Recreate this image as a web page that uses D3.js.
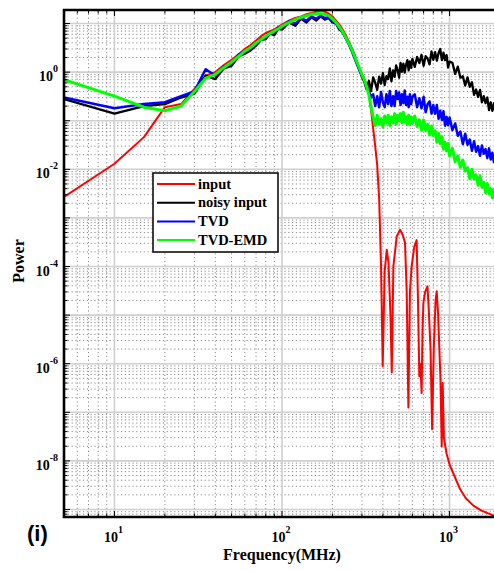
<!DOCTYPE html>
<html>
<head>
<meta charset="utf-8">
<script src="https://cdn.jsdelivr.net/npm/d3@7/dist/d3.min.js"></script>
<style>
  body { margin: 0; background: #fff; }
  svg { display: block; font-family: "Liberation Serif", "Times New Roman", serif; font-weight: bold; }
</style>
</head>
<body>
<script>
// Input spectrum (MHz, power)
const inputFreq = [5, 10, 15, 20, 25, 30, 35, 40, 45, 50, 55, 60, 65, 70, 75, 80, 85, 90, 95, 100,
  110, 120, 130, 140, 150, 160, 170, 180, 190, 200, 210, 220, 230, 240, 250, 260, 270, 280, 290, 300,
  310, 320, 330, 340, 350, 360, 370, 380, 390, 399, 410, 422, 432, 444, 452, 462, 484, 507, 525, 542,
  555, 568, 580, 594, 615, 636, 648, 660, 670, 681, 690, 698, 715, 738, 750, 770, 787, 805, 825, 838,
  855, 869, 882, 898, 910, 925, 960, 1007, 1080, 1157, 1250, 1387, 1550, 1745, 2000];
const inputPower = [2.7e-3, 1.3e-2, 4.6e-2, 0.19, 0.22, 0.45, 0.85, 1.0, 1.4, 1.8, 2.3, 3.0, 3.6, 4.5, 5.5, 6.4, 7.0, 7.6, 8.5, 9.5,
  11.5, 13, 14, 15.5, 16.5, 17.5, 18.5, 17.5, 16, 14, 11.5, 9.5, 7.5, 5.8, 4.3, 3.2, 2.3, 1.6, 1.15, 0.9,
  0.72, 0.55, 0.35, 0.17, 0.07, 0.03, 0.012, 2.5e-3, 1e-4, 9e-7, 8e-5, 2.2e-4, 1.2e-4, 1e-5, 6.6e-7, 1e-4, 4.2e-4, 5.7e-4, 4.5e-4, 3.1e-4,
  3e-5, 1.25e-7, 3e-5, 1e-4, 2.5e-4, 3.5e-4, 2e-5, 5.5e-7, 1e-6, 2.5e-7, 5e-6, 1.8e-5, 3e-5, 3.9e-5, 1.5e-5, 2e-6, 4.5e-8, 2e-6, 2e-5, 3.1e-5,
  1e-5, 2e-6, 5e-7, 2e-8, 4e-7, 3e-8, 1.4e-8, 7.9e-9, 4.5e-9, 2.6e-9, 1.7e-9, 1.2e-9, 9.5e-10, 8e-10, 6.5e-10];

// Noisy input, TVD and TVD-EMD spectra share one frequency axis
const noisyFreq = [5, 10, 15, 20, 25, 30, 35, 40, 45, 50, 55, 60, 65, 70, 75, 80, 85, 90, 95, 100,
  110, 120, 130, 140, 150, 160, 170, 180, 190, 200, 210, 220, 230, 240, 250, 260, 270, 280, 290, 300,
  310, 320, 330, 340, 350, 360, 370, 380, 390, 400, 410, 420, 430, 440, 450, 460, 470, 480, 490, 500,
  510, 520, 530, 540, 550, 560, 570, 580, 590, 600,
  620, 640, 660, 680, 700, 720, 740, 760, 780, 800, 820, 840, 860, 880, 900, 920, 940, 960, 980, 1000,
  1040, 1080, 1120, 1160, 1200, 1240, 1280, 1320, 1360, 1400, 1440, 1480, 1520, 1560, 1600, 1640, 1680, 1720, 1760, 1800,
  1840, 1880, 1920, 1960, 2000];
const noisyPower = [0.28, 0.14, 0.2, 0.22, 0.3, 0.36, 0.85, 0.72, 1.2, 1.35, 2.1, 2.4, 2.8, 3.5, 4.6, 4.8, 6.2, 5.8, 7.8, 7.5,
  10.5, 9, 12.5, 10.5, 13.5, 11.5, 14, 12, 13, 10.5, 10, 7.5, 6.8, 5, 4.2, 3, 2.3, 1.6, 1.1, 0.8,
  0.63, 0.44, 0.66, 0.41, 0.78, 0.6, 0.43, 0.81, 0.58, 0.95, 0.54, 0.83, 0.72, 1.19, 0.65, 1.09, 0.8, 1.37, 1.1, 0.77,
  1.55, 1.02, 1.5, 0.98, 1.43, 1.76, 1.09, 1.67, 1.23, 1.88,
  1.28, 2.06, 1.53, 2.28, 1.35, 2.13, 1.9, 1.44, 2.67, 1.79, 2.58, 1.72, 2.48, 2.99, 1.76, 2.52, 1.76, 2.25, 1.24, 1.65,
  1.56, 0.92, 1.3, 0.77, 0.82, 0.53, 0.78, 0.5, 0.62, 0.34, 0.44, 0.31, 0.43, 0.24, 0.32, 0.23, 0.3, 0.165, 0.24, 0.16,
  0.23, 0.136, 0.176, 0.14, 0.18];
const tvdPower = [0.3, 0.18, 0.22, 0.24, 0.32, 0.4, 1.15, 0.85, 1.3, 1.5, 2.3, 2.7, 3.0, 4.0, 4.8, 5.4, 6.5, 6.8, 8.2, 8.5,
  11, 10, 13, 11.5, 14, 12.5, 14.5, 13, 13.5, 11, 10, 8, 6.5, 5, 3.8, 2.8, 2.0, 1.45, 1.1, 0.85,
  0.68, 0.5, 0.42, 0.3, 0.35, 0.2, 0.32, 0.19, 0.39, 0.24, 0.19, 0.35, 0.22, 0.41, 0.2, 0.32, 0.2, 0.41, 0.28, 0.38,
  0.21, 0.35, 0.23, 0.42, 0.21, 0.31, 0.19, 0.35, 0.22, 0.31,
  0.35, 0.19, 0.29, 0.18, 0.31, 0.15, 0.22, 0.25, 0.14, 0.21, 0.14, 0.21, 0.11, 0.16, 0.104, 0.156, 0.079, 0.12, 0.081, 0.117,
  0.064, 0.088, 0.049, 0.06, 0.033, 0.054, 0.032, 0.041, 0.024, 0.038, 0.023, 0.03, 0.019, 0.031, 0.021, 0.026, 0.017, 0.027, 0.016, 0.022,
  0.014, 0.022, 0.015, 0.018, 0.013];
const tvdEmdPower = [0.7, 0.32, 0.19, 0.16, 0.2, 0.4, 0.75, 0.9, 1.25, 1.6, 2.1, 2.7, 3.2, 4.0, 4.7, 5.5, 6.3, 7.0, 7.8, 8.8,
  10.5, 12, 13.5, 14.5, 15.5, 16, 16, 15.5, 14.5, 12.5, 10.5, 8.5, 6.8, 5.2, 4.0, 3.0, 2.2, 1.6, 1.2, 0.88,
  0.7, 0.5, 0.34, 0.19, 0.12, 0.08, 0.13, 0.085, 0.11, 0.075, 0.125, 0.09, 0.13, 0.08, 0.12, 0.09, 0.14, 0.085, 0.13, 0.1,
  0.14, 0.09, 0.15, 0.095, 0.12, 0.085, 0.13, 0.085, 0.12, 0.09,
  0.125, 0.076, 0.104, 0.064, 0.104, 0.063, 0.084, 0.051, 0.078, 0.05, 0.062, 0.036, 0.055, 0.034, 0.047, 0.026, 0.036, 0.024, 0.034, 0.019,
  0.027, 0.0144, 0.019, 0.011, 0.0156, 0.0092, 0.0109, 0.0064, 0.01, 0.0063, 0.0077, 0.0047, 0.0074, 0.0043, 0.0054, 0.0033, 0.0051, 0.0031, 0.004, 0.0026,
  0.0039, 0.0025, 0.0032, 0.002, 0.0033];

const legendLabels = ["input", "noisy input", "TVD", "TVD-EMD"];
const xTickExponents = [1, 2, 3];
const yTickExponents = [-8, -6, -4, -2, 0];

const width = 494,
  height = 571,
  plot = { left: 64, right: 500, top: 10, bottom: 517 };

const x = d3.scaleLog().domain([5, 2000]).range([plot.left, plot.right]);
const y = d3.scaleLog().domain([7e-10, 19]).range([plot.bottom, plot.top]);

const svg = d3.select("body").append("svg")
  .attr("width", width)
  .attr("height", height);

svg.append("defs").append("clipPath")
  .attr("id", "plot-clip")
  .append("rect")
  .attr("x", plot.left)
  .attr("y", plot.top)
  .attr("width", plot.right - plot.left)
  .attr("height", plot.bottom - plot.top);

const isDecade = v => Math.abs(Math.log10(v) - Math.round(Math.log10(v))) < 1e-6;
const xAll = x.ticks(),
  yAll = y.ticks(40);

// Grid: dotted minor lines, solid light major lines
const grid = svg.append("g").attr("clip-path", "url(#plot-clip)");

grid.selectAll(".xminor")
  .data(xAll.filter(v => !isDecade(v)))
  .enter().append("line")
  .attr("x1", d => x(d)).attr("x2", d => x(d))
  .attr("y1", plot.top).attr("y2", plot.bottom)
  .style("stroke", "#8c8c8c")
  .style("stroke-width", 1)
  .style("stroke-dasharray", "1.2,2.6");

grid.selectAll(".yminor")
  .data(yAll.filter(v => !isDecade(v)))
  .enter().append("line")
  .attr("x1", plot.left).attr("x2", plot.right)
  .attr("y1", d => y(d)).attr("y2", d => y(d))
  .style("stroke", "#8c8c8c")
  .style("stroke-width", 1)
  .style("stroke-dasharray", "1.2,2.6");

grid.selectAll(".xmajor")
  .data(xAll.filter(isDecade))
  .enter().append("line")
  .attr("x1", d => x(d)).attr("x2", d => x(d))
  .attr("y1", plot.top).attr("y2", plot.bottom)
  .style("stroke", "#cfcfcf")
  .style("stroke-width", 1.6);

grid.selectAll(".ymajor")
  .data(yAll.filter(isDecade))
  .enter().append("line")
  .attr("x1", plot.left).attr("x2", plot.right)
  .attr("y1", d => y(d)).attr("y2", d => y(d))
  .style("stroke", "#cfcfcf")
  .style("stroke-width", 1.6);

// Spectra
const series = [
  { freq: inputFreq, power: inputPower, color: "#ff0000", w: 2 },
  { freq: noisyFreq, power: noisyPower, color: "#000000", w: 2.3 },
  { freq: noisyFreq, power: tvdPower, color: "#0000ff", w: 2.5 },
  { freq: noisyFreq, power: tvdEmdPower, color: "#00ff00", w: 3 }
];

const line = d3.line()
  .x(d => x(d[0]))
  .y(d => y(d[1]));

svg.append("g")
  .attr("clip-path", "url(#plot-clip)")
  .selectAll("path")
  .data(series)
  .enter().append("path")
  .attr("d", s => line(s.freq.map((f, i) => [f, s.power[i]])))
  .style("fill", "none")
  .style("stroke", s => s.color)
  .style("stroke-width", s => s.w)
  .style("stroke-linejoin", "round");

// Box and inward ticks
const ticks = svg.append("g").style("stroke", "#000").style("stroke-width", 1);

xAll.forEach(v => {
  const len = isDecade(v) ? 6 : 3.5;
  ticks.append("line").attr("x1", x(v)).attr("x2", x(v)).attr("y1", plot.bottom).attr("y2", plot.bottom - len);
  ticks.append("line").attr("x1", x(v)).attr("x2", x(v)).attr("y1", plot.top).attr("y2", plot.top + len);
});
yAll.forEach(v => {
  const len = isDecade(v) ? 6 : 3.5;
  ticks.append("line").attr("x1", plot.left).attr("x2", plot.left + len).attr("y1", y(v)).attr("y2", y(v));
});

svg.append("path")
  .attr("d", `M${plot.right},${plot.top} H${plot.left} V${plot.bottom} H${plot.right}`)
  .style("fill", "none")
  .style("stroke", "#000")
  .style("stroke-width", 2.6);

// Tick labels with superscript exponents
const xLabels = svg.append("g").attr("text-anchor", "middle").style("font-size", "14px");
xTickExponents.forEach(e => {
  const t = xLabels.append("text").attr("x", x(Math.pow(10, e)) - 1).attr("y", 542);
  t.append("tspan").text("10");
  t.append("tspan").attr("dy", -9).style("font-size", "10px").text(e);
});

const yLabels = svg.append("g").attr("text-anchor", "end").style("font-size", "14px");
yTickExponents.forEach(e => {
  const t = yLabels.append("text").attr("x", 58).attr("y", y(Math.pow(10, e)) + 9);
  t.append("tspan").text("10");
  t.append("tspan").attr("dy", -9).style("font-size", "10px").text(e);
});

// Axis titles
svg.append("text")
  .attr("x", 282)
  .attr("y", 560)
  .attr("text-anchor", "middle")
  .style("font-size", "16px")
  .text("Frequency(MHz)");

svg.append("text")
  .attr("transform", "translate(24,261) rotate(-90)")
  .attr("text-anchor", "middle")
  .style("font-size", "16px")
  .text("Power");

svg.append("text")
  .attr("x", 27)
  .attr("y", 541)
  .style("font-family", "'Liberation Sans', Arial, sans-serif")
  .style("font-size", "22px")
  .text("(i)");

// Legend
const legend = svg.append("g").attr("transform", "translate(153,173)");

legend.append("rect")
  .attr("width", 125)
  .attr("height", 79)
  .style("fill", "#fff")
  .style("stroke", "#000")
  .style("stroke-width", 1.5);

const rows = legend.selectAll(".row")
  .data(series)
  .enter().append("g")
  .attr("transform", (d, i) => `translate(0,${11 + i * 18.7})`);

rows.append("line")
  .attr("x1", 4).attr("x2", 42)
  .style("stroke", d => d.color)
  .style("stroke-width", 2);

rows.append("text")
  .attr("x", 45)
  .attr("dy", "0.33em")
  .style("font-size", "14.5px")
  .text((d, i) => legendLabels[i]);
</script>
</body>
</html>
